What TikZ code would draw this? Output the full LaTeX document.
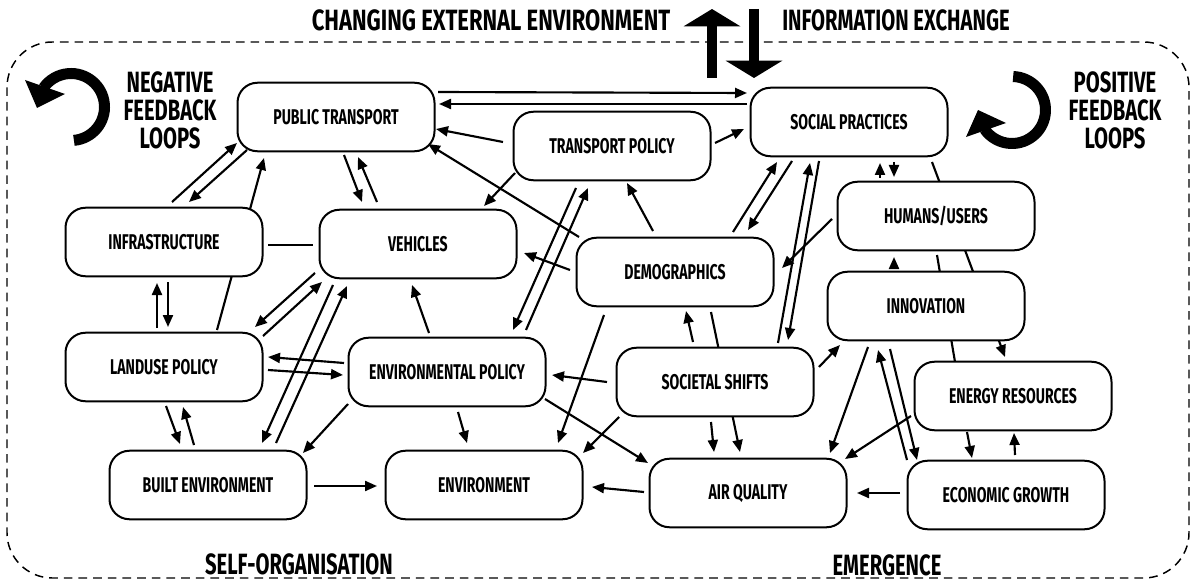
\documentclass[tikz,border=0pt]{standalone}
\usepackage{fontspec}
\newfontfamily\condfont{Fira Sans}[FakeStretch=0.66]
\newfontfamily\headcond{Fira Sans}[FakeStretch=0.69]
\newfontfamily\titlecond{Fira Sans}[FakeStretch=0.75]
\usetikzlibrary{arrows.meta,calc,backgrounds}
\newcommand\boxfont{\condfont\bfseries\fontsize{16}{17}\selectfont}
\newcommand\headfont{\headcond\bfseries\fontsize{22}{21}\selectfont}
\newcommand\titlefont{\titlecond\bfseries\fontsize{22}{21}\selectfont}
\tikzset{
  every picture/.style={line width=1.5pt},
  factor/.style={draw=black, fill=white, line width=1.5pt, rounded corners=15pt,
                 minimum width=147.75pt, minimum height=51.4pt, inner sep=0pt, font=\boxfont},
  heading/.style={font=\headfont, align=center, inner sep=0pt},
  flow/.style={line width=1.6pt, -{Triangle[length=9pt,width=7.5pt]}},
  tie/.style={line width=1.6pt},
  frame/.style={line width=1.1pt, dash pattern=on 6.5pt off 4.5pt, rounded corners=34pt},
  bigarrow/.style={line width=7pt, -{Triangle[length=13pt,width=42pt]}},
  loopband/.style={line width=8.25pt},
}

\begin{document}
\begin{tikzpicture}[x=0.75pt,y=-0.75pt]
\useasboundingbox (0,0) rectangle (1192,581);

% ------------------------------------------------------------ system boundary
\draw[frame] (7,42) rectangle (1189,578);

\node[heading, font=\titlefont] (extenv) at (491,20) {CHANGING EXTERNAL ENVIRONMENT};
\node[heading] (infoex) at (896,20) {INFORMATION EXCHANGE};
\node[heading] (selforg) at (299,564) {SELF-ORGANISATION};
\node[heading] (emerg) at (887,565) {EMERGENCE};
\node[heading] (neglab) at (170,110) {NEGATIVE\\FEEDBACK\\LOOPS};
\node[heading] (poslab) at (1115,110) {POSITIVE\\FEEDBACK\\LOOPS};

% exchange with the outside
\coordinate (upfoot) at (712,78);
\coordinate (uptip) at (712,9);
\coordinate (downtop) at (754,9);
\coordinate (downtip) at (754,78);
\draw[bigarrow] (upfoot) -- (uptip);
\draw[bigarrow] (downtop) -- (downtip);

% loop icons
\coordinate (negc) at (71,107);
\draw[loopband] ($(negc)+(85:33.5)$) arc[start angle=85, end angle=-145, radius=33.5];
\fill (25,80) -- (65,94) -- (37,108) -- cycle;
\coordinate (posc) at (1012,110);
\draw[loopband] ($(posc)+(-88:33.5)$) arc[start angle=-88, end angle=145, radius=33.5];
\fill (966,137) -- (1006,123) -- (978,110) -- cycle;

% ------------------------------------------------------------ factors
\node[factor] (pt)  at (336,117)  {PUBLIC TRANSPORT};
\node[factor] (sp)  at (849,122)  {SOCIAL PRACTICES};
\node[factor] (tp)  at (612,146)  {TRANSPORT POLICY};
\node[factor] (inf) at (164,242)  {INFRASTRUCTURE};
\node[factor] (veh) at (418,244)  {VEHICLES};
\node[factor] (dem) at (675,272)  {DEMOGRAPHICS};
\node[factor] (hu)  at (936,216)  {HUMANS/USERS};
\node[factor] (inn) at (926,306)  {INNOVATION};
\node[factor] (lp)  at (164,367)  {LANDUSE POLICY};
\node[factor] (ep)  at (447,372)  {ENVIRONMENTAL POLICY};
\node[factor] (ss)  at (715,382)  {SOCIETAL SHIFTS};
\node[factor] (er)  at (1013,396) {ENERGY RESOURCES};
\node[factor] (be)  at (208,485)  {BUILT ENVIRONMENT};
\node[factor] (env) at (484,485)  {ENVIRONMENT};
\node[factor] (aq)  at (748,493)  {AIR QUALITY};
\node[factor] (eg)  at (1006,495) {ECONOMIC GROWTH};

% ------------------------------------------------------------ influences
\begin{scope}[on background layer]
% top row
\draw[flow] ($(pt)+(102,-25)$) -- ($(sp)+(-102,-29)$);
\draw[flow] ($(sp)+(-102,-18)$) -- ($(pt)+(103,-13)$);
\draw[flow] ($(tp)+(-109,-4)$) -- ($(pt)+(100,12)$);
\draw[flow] ($(tp)+(103,-3)$) -- ($(sp)+(-105,7)$);
\draw[flow] ($(dem)+(-96,-35)$) -- ($(pt)+(92,27)$);
\draw[flow] ($(tp)+(-97,27)$) -- ($(veh)+(66,-38)$);
\draw[flow] ($(dem)+(-105,-2)$) -- ($(veh)+(106,9)$);
\draw[flow] ($(dem)+(-22,-41)$) -- ($(tp)+(15,37)$);
% social practices
\draw[flow] ($(dem)+(58,-40)$) -- ($(sp)+(-72,40)$);
\draw[flow] ($(sp)+(-57,39)$) -- ($(dem)+(73,-42)$);
\draw[flow] ($(ss)+(63,-39)$) -- ($(sp)+(-39,41)$);
\draw[flow] ($(sp)+(-30,39)$) -- ($(ss)+(73,-42)$);
\draw[flow] ($(hu)+(-104,3)$) -- ($(dem)+(107,-4)$);
\draw[flow] ($(hu)+(-56,-38)$) -- ($(sp)+(31,41)$);
\draw[flow] ($(sp)+(45,40)$) -- ($(hu)+(-42,-39)$);
\draw[flow] ($(sp)+(83,40)$) -- ($(er)+(-8,-39)$);
\draw[tie]  ($(hu)+(1,39)$) -- ($(er)+(-58,-34)$);
\draw[flow] ($(inn)+(-32,-38)$) -- ($(hu)+(-42,41)$);
% transport policy and environmental policy
\draw[flow] ($(tp)+(-36,42)$) -- ($(ep)+(66,-42)$);
\draw[flow] ($(ep)+(79,-42)$) -- ($(tp)+(-24,42)$);
\draw[flow] ($(dem)+(-71,43)$) -- ($(env)+(74,-42)$);
\draw[flow] ($(ss)+(-22,-40)$) -- ($(dem)+(11,39)$);
\draw[flow] ($(dem)+(36,40)$) -- ($(aq)+(-8,-41)$);
\draw[flow] ($(ss)+(-4,40)$) -- ($(aq)+(-34,-41)$);
\draw[flow] ($(ep)+(-18,-39)$) -- ($(veh)+(-6,41)$);
% left column
\draw[tie]  ($(inf)+(104,3)$) -- ($(veh)+(-105,1)$);
\draw[flow] ($(lp)+(53,-37)$) -- ($(pt)+(-72,41)$);
\draw[flow] ($(inf)+(8,-40)$) -- ($(pt)+(-99,26)$);
\draw[flow] ($(pt)+(-89,33)$) -- ($(inf)+(25,-40)$);
\draw[flow] ($(pt)+(8,38)$) -- ($(veh)+(-56,-42)$);
\draw[flow] ($(veh)+(-41,-42)$) -- ($(pt)+(22,40)$);
\draw[flow] ($(lp)+(-7,-39)$) -- ($(inf)+(-7,41)$);
\draw[flow] ($(inf)+(4,40)$) -- ($(lp)+(4,-40)$);
\draw[flow] ($(veh)+(-103,29)$) -- ($(lp)+(91,-40)$);
\draw[flow] ($(lp)+(99,-31)$) -- ($(veh)+(-96,38)$);
\draw[flow] ($(veh)+(-85,41)$) -- ($(be)+(54,-42)$);
\draw[flow] ($(be)+(68,-42)$) -- ($(veh)+(-71,42)$);
\draw[flow] ($(ep)+(-103,-9)$) -- ($(lp)+(104,-10)$);
\draw[flow] ($(lp)+(104,3)$) -- ($(ep)+(-104,3)$);
\draw[flow] ($(lp)+(2,39)$) -- ($(be)+(-28,-41)$);
\draw[flow] ($(be)+(-14,-40)$) -- ($(lp)+(19,40)$);
% bottom row
\draw[flow] ($(ep)+(-99,32)$) -- ($(be)+(95,-32)$);
\draw[flow] ($(ep)+(11,40)$) -- ($(env)+(-17,-42)$);
\draw[flow] ($(ep)+(98,27)$) -- ($(aq)+(-100,-30)$);
\draw[flow] ($(ss)+(-108,0)$) -- ($(ep)+(105,3)$);
\draw[flow] ($(ss)+(-96,35)$) -- ($(env)+(99,-32)$);
\draw[flow] ($(be)+(106,1)$) -- ($(env)+(-107,1)$);
\draw[flow] ($(aq)+(-104,-1)$) -- ($(env)+(108,2)$);
\draw[flow] ($(eg)+(-106,-2)$) -- ($(aq)+(109,0)$);
% right column
\draw[flow] ($(ss)+(104,-15)$) -- ($(inn)+(-86,39)$);
\draw[flow] ($(inn)+(-58,41)$) -- ($(aq)+(82,-40)$);
\draw[flow] ($(er)+(-102,20)$) -- ($(aq)+(97,-34)$);
\draw[flow] ($(eg)+(-99,-35)$) -- ($(inn)+(-48,44)$);
\draw[flow] ($(inn)+(-36,43)$) -- ($(eg)+(-89,-35)$);
\draw[flow] ($(er)+(-46,36)$) -- ($(eg)+(-34,-37)$);
\draw[flow] ($(eg)+(9,-40)$) -- ($(er)+(1,37)$);
\end{scope}

\end{tikzpicture}
\end{document}
